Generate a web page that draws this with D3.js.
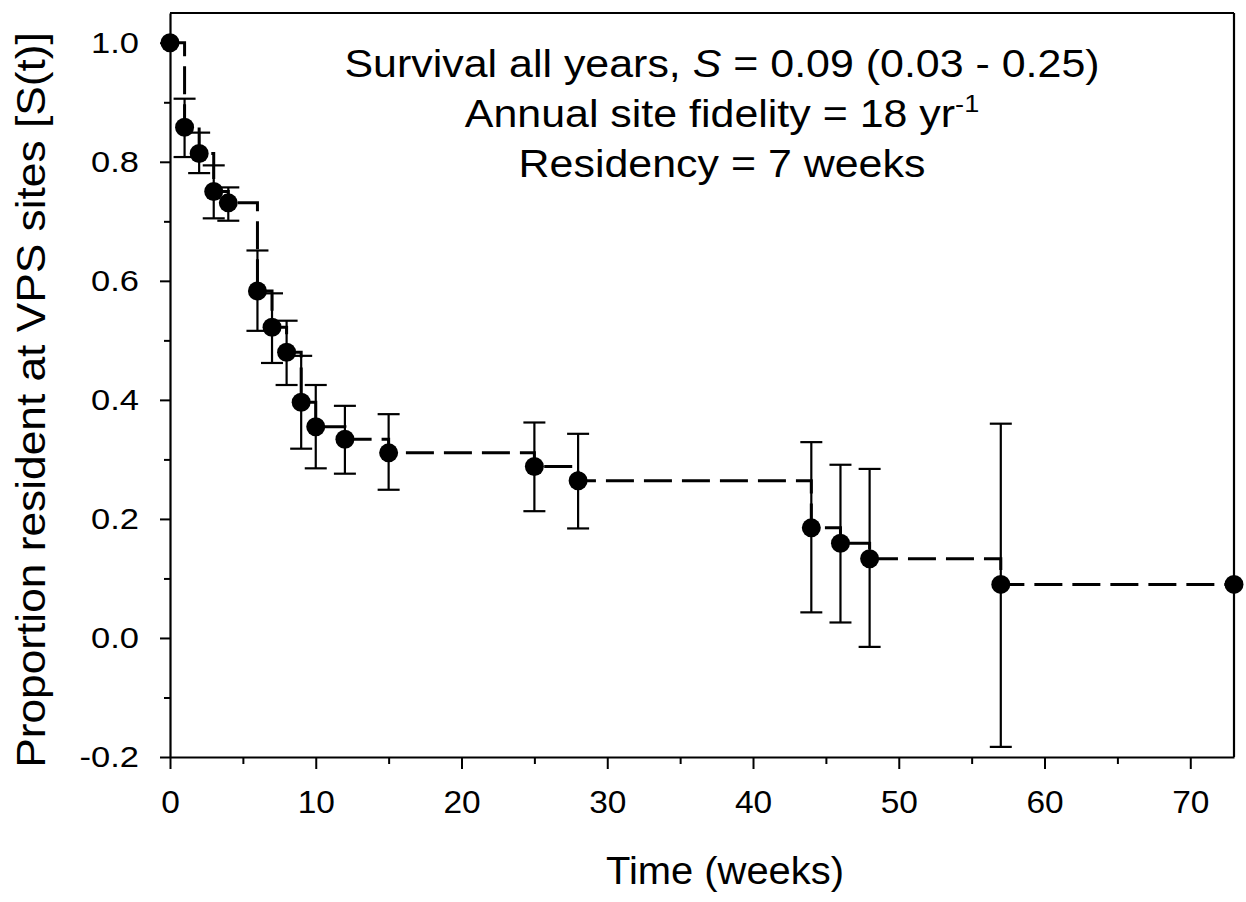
<!DOCTYPE html>
<html>
<head>
<meta charset="utf-8">
<script src="https://cdn.jsdelivr.net/npm/d3@7"></script>
<style>
  body { margin: 0; background: #fff; }
  text { font-family: Arial, "Liberation Sans", sans-serif; fill: #000; }
</style>
</head>
<body>
<div id="chart"></div>
<script>
// survival data
var weeks = [0, 1, 2, 3, 4, 6, 7, 8, 9, 10, 12, 15, 25, 28, 44, 46, 48, 57, 73]
var survival = [1.0, 0.858, 0.814, 0.750, 0.731, 0.583, 0.522, 0.480, 0.396, 0.355, 0.334, 0.311, 0.288, 0.264, 0.185, 0.159, 0.133, 0.090, 0.090]
var ciUpper = [null, 0.906, 0.849, 0.794, 0.757, 0.651, 0.579, 0.533, 0.474, 0.425, 0.390, 0.376, 0.362, 0.343, 0.329, 0.291, 0.284, 0.360, null]
var ciLower = [null, 0.808, 0.781, 0.705, 0.701, 0.516, 0.462, 0.425, 0.318, 0.285, 0.276, 0.249, 0.213, 0.184, 0.043, 0.026, -0.015, -0.183, null]
var xTicks = [0, 10, 20, 30, 40, 50, 60, 70]
var xMinor = [5, 15, 25, 35, 45, 55, 65]
var yTicks = [-0.2, 0.0, 0.2, 0.4, 0.6, 0.8, 1.0]
var yMinor = [-0.1, 0.1, 0.3, 0.5, 0.7, 0.9]
var annotLines = ["Survival all years, ", "Annual site fidelity = 18 yr", "Residency = 7 weeks"]

var W = 1246, H = 902
var margin = {top: 13, right: 12, bottom: 145, left: 170}
var width = W - margin.left - margin.right,
    height = H - margin.top - margin.bottom
var stretch = 1.13  // the text in the figure is a bit wider than plain Arial

var data = weeks.map(function(t, i) {
  return {t: t, s: survival[i], hi: ciUpper[i], lo: ciLower[i]}
})

var root = d3.select("#chart").append("svg")
    .attr("width", W)
    .attr("height", H)
var svg = root.append("g")
    .attr("transform", "translate(" + margin.left + "," + margin.top + ")")

var x = d3.scaleLinear().domain([0, 73]).range([0, width])
var y = d3.scaleLinear().domain([-0.2, 1.05]).range([height, 0])

// axes
svg.append("g")
    .attr("transform", "translate(0," + height + ")")
    .call(d3.axisBottom(x).tickValues(xTicks).tickSize(12).tickSizeOuter(0).tickPadding(22).tickFormat(d3.format("d")))
    .call(function(g) {
      g.select(".domain").attr("stroke-width", 2.2)
      g.selectAll(".tick line").attr("stroke-width", 2)
      g.selectAll(".tick text").style("font-size", "31px").attr("transform", "scale(1.08,1)")
    })
svg.append("g")
    .attr("transform", "translate(0," + height + ")")
    .call(d3.axisBottom(x).tickValues(xMinor).tickSize(7).tickFormat(""))
    .call(function(g) { g.select(".domain").remove(); g.selectAll(".tick line").attr("stroke-width", 2) })

svg.append("g")
    .call(d3.axisLeft(y).tickValues(yTicks).tickSize(10).tickSizeOuter(0)
      .tickFormat(function(d) { return d3.format(".1f")(d).replace("\u2212", "-") }))
    .call(function(g) {
      g.select(".domain").attr("stroke-width", 2.2)
      g.selectAll(".tick line").attr("stroke-width", 2)
      g.selectAll(".tick text").style("font-size", "30px")
        .attr("x", -31 / 1.15)
        .attr("transform", "scale(1.15,1)")
    })
svg.append("g")
    .call(d3.axisLeft(y).tickValues(yMinor).tickSize(6).tickFormat(""))
    .call(function(g) { g.select(".domain").remove(); g.selectAll(".tick line").attr("stroke-width", 2) })

// top and right frame
svg.append("line").attr("x1", 0).attr("x2", width).attr("y1", 0).attr("y2", 0)
    .attr("stroke", "#000").attr("stroke-width", 2.2)
svg.append("line").attr("x1", width).attr("x2", width).attr("y1", 0).attr("y2", height)
    .attr("stroke", "#000").attr("stroke-width", 2.2)

// step line
var step = d3.line()
    .x(function(d) { return x(d.t) })
    .y(function(d) { return y(d.s) })
    .curve(d3.curveStepAfter)
svg.append("path")
    .datum(data)
    .attr("d", step)
    .attr("fill", "none")
    .attr("stroke", "#000")
    .attr("stroke-width", 3)
    .attr("stroke-dasharray", "28,10")

// error bars
var eb = data.filter(function(d) { return d.hi != null })
var bars = svg.append("g").attr("stroke", "#000").attr("stroke-width", 2.2)
bars.selectAll(".v").data(eb).enter().append("line")
    .attr("x1", function(d) { return x(d.t) }).attr("x2", function(d) { return x(d.t) })
    .attr("y1", function(d) { return y(d.hi) }).attr("y2", function(d) { return y(d.lo) })
bars.selectAll(".cu").data(eb).enter().append("line")
    .attr("x1", function(d) { return x(d.t) - 11 }).attr("x2", function(d) { return x(d.t) + 11 })
    .attr("y1", function(d) { return y(d.hi) }).attr("y2", function(d) { return y(d.hi) })
bars.selectAll(".cl").data(eb).enter().append("line")
    .attr("x1", function(d) { return x(d.t) - 11 }).attr("x2", function(d) { return x(d.t) + 11 })
    .attr("y1", function(d) { return y(d.lo) }).attr("y2", function(d) { return y(d.lo) })

// points
svg.append("g").selectAll("circle").data(data).enter().append("circle")
    .attr("cx", function(d) { return x(d.t) })
    .attr("cy", function(d) { return y(d.s) })
    .attr("r", 9.5)
    .attr("fill", "#000")

// annotation (page coordinates)
var ann = root.append("g").attr("text-anchor", "middle").style("font-size", "38px")
var t1 = ann.append("text").attr("transform", "translate(722,77) scale(" + stretch + ",1)")
t1.append("tspan").text(annotLines[0])
t1.append("tspan").style("font-style", "italic").text("S")
t1.append("tspan").text(" = 0.09 (0.03 - 0.25)")
var t2 = ann.append("text").attr("transform", "translate(722,127) scale(" + stretch + ",1)")
t2.append("tspan").text(annotLines[1])
t2.append("tspan").attr("dy", -15).style("font-size", "24px").text("-1")
ann.append("text").attr("transform", "translate(722,177) scale(" + stretch + ",1)").text(annotLines[2])

// axis titles
root.append("text")
    .attr("transform", "translate(725,884) scale(1.05,1)")
    .attr("text-anchor", "middle")
    .style("font-size", "38px")
    .text("Time (weeks)")
root.append("text")
    .attr("transform", "translate(45,400) rotate(-90) scale(1.08,1)")
    .attr("text-anchor", "middle")
    .style("font-size", "41px")
    .text("Proportion resident at VPS sites [S(t)]")
</script>
</body>
</html>
